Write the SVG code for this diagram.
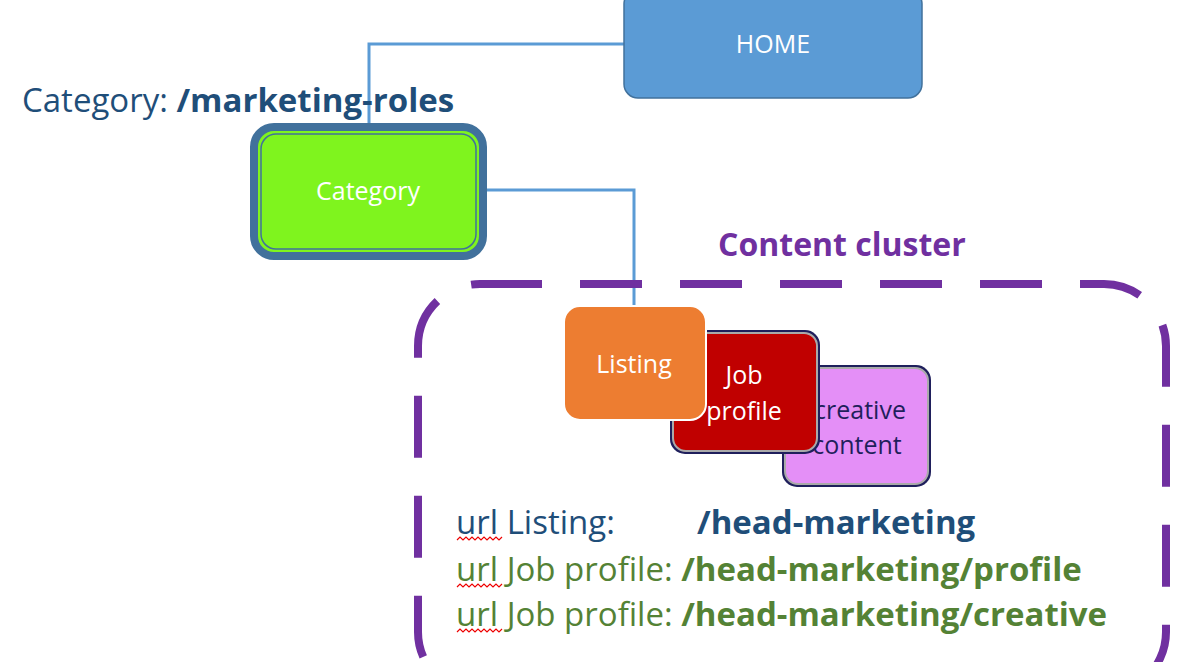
<svg xmlns="http://www.w3.org/2000/svg" width="1200" height="662" viewBox="0 0 1200 662">
<style>
text{font-family:"Open Sans","Noto Sans",sans-serif}
.w{fill:#fff;font-size:25px}
.d{fill:#1f1f5c;font-size:25px}
.u{font-size:33px}
.con{fill:none;stroke:#5b9bd5;stroke-width:3}
</style>
<rect width="1200" height="662" fill="#fff"/>
<g id="connectors">
<polyline class="con" points="624,44 369,44 369,128"/>
<polyline class="con" points="486,190 634,190 634,306"/>
</g>
<g id="cluster">
<rect x="418" y="284" width="748" height="410" rx="62" fill="none" stroke="#7030a0" stroke-width="8" stroke-dasharray="62,38"/>
<text x="718" y="256" fill="#7030a0" font-size="32" font-weight="bold">Content cluster</text>
</g>
<g id="home">
<rect x="624" y="-10" width="298" height="108" rx="14" fill="#5b9bd5" stroke="#41719c" stroke-width="1.5"/>
<text class="w" x="773" y="53" text-anchor="middle">HOME</text>
</g>
<g id="category-label">
<text x="22" y="112" fill="#1f4e79" font-size="33">Category: <tspan font-weight="bold">/marketing-roles</tspan></text>
</g>
<g id="category">
<rect x="254" y="127" width="229" height="129" rx="20" fill="#7ff41e" stroke="#41719c" stroke-width="8"/>
<rect x="261" y="134" width="215" height="115" rx="15" fill="none" stroke="#41719c" stroke-width="1.5"/>
<text class="w" x="368" y="200" text-anchor="middle">Category</text>
</g>
<g id="creative">
<rect x="782" y="365" width="149" height="122" rx="15" fill="#1f1f5c"/>
<rect x="785" y="368" width="143" height="116" rx="13" fill="#e48ff7" stroke="#aaa" stroke-width="2"/>
<text class="d" x="860" y="419" text-anchor="middle">creative</text>
<text class="d" x="857" y="454" text-anchor="middle">content</text>
</g>
<g id="jobprofile">
<rect x="670" y="330" width="150" height="124" rx="15" fill="#1f1f5c"/>
<rect x="673" y="333" width="144" height="118" rx="13" fill="#c00000" stroke="#aaa" stroke-width="2"/>
<text class="w" x="744" y="384" text-anchor="middle">Job</text>
<text class="w" x="744" y="420" text-anchor="middle">profile</text>
</g>
<g id="listing">
<rect x="564" y="306" width="142" height="114" rx="16" fill="#ed7d31" stroke="#fff" stroke-width="2"/>
<text class="w" x="634" y="373" text-anchor="middle">Listing</text>
</g>
<g id="urls">
<text class="u" x="456" y="534" fill="#1f4e79">url Listing:</text>
<text class="u" x="697" y="534" fill="#1f4e79" font-weight="bold">/head-marketing</text>
<text class="u" x="456" y="581" fill="#548235">url Job profile: <tspan font-weight="bold">/head-marketing/profile</tspan></text>
<text class="u" x="456" y="626" fill="#548235">url Job profile: <tspan font-weight="bold">/head-marketing/creative</tspan></text>
<g fill="none" stroke="#e00" stroke-width="1.2">
<polyline points="457,540 460,537 463,540 466,537 469,540 472,537 475,540 478,537 481,540 484,537 487,540 490,537 493,540 496,537 499,540 502,537"/>
<polyline points="457,587 460,584 463,587 466,584 469,587 472,584 475,587 478,584 481,587 484,584 487,587 490,584 493,587 496,584 499,587 502,584"/>
<polyline points="457,632 460,629 463,632 466,629 469,632 472,629 475,632 478,629 481,632 484,629 487,632 490,629 493,632 496,629 499,632 502,629"/>
</g>
</g>
</svg>
